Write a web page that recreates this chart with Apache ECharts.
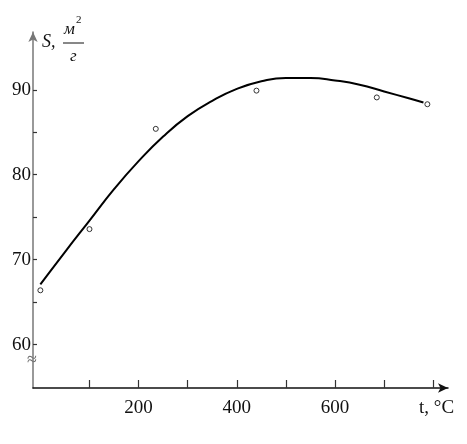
<!DOCTYPE html>
<html>
<head>
<meta charset="utf-8">
<script src="https://cdn.jsdelivr.net/npm/echarts@6/dist/echarts.min.js"></script>
<style>html,body{margin:0;padding:0;background:#fff;}#c{width:467px;height:444px;}</style>
</head>
<body>
<div id="c"></div>
<script>
// Measured points (t, °C ; S, m2/g)
const pointT = [0, 100, 235, 440, 685, 788];
const pointS = [66.4, 73.6, 85.4, 89.9, 89.1, 88.3];
// Fitted curve
const curveT = [0, 50, 100, 150, 200, 250, 300, 350, 400, 450, 500, 550, 600, 650, 700, 750, 780];
const curveS = [67.1, 70.9, 74.6, 78.3, 81.6, 84.5, 86.9, 88.7, 90.1, 91.0, 91.4, 91.4, 91.1, 90.6, 89.8, 89.0, 88.5];
// Ticks
const xTicks = [100, 200, 300, 400, 500, 600, 700, 800];
const xTickLabels = [200, 400, 600];
const yTicks = [60, 65, 70, 75, 80, 85, 90];
const yTickLabels = [60, 70, 80, 90];

const serif = '"Liberation Serif", "DejaVu Serif", serif';
const chart = echarts.init(document.getElementById('c'), null, {renderer: 'canvas'});
chart.setOption({
  animation: false,
  backgroundColor: '#fff',
  grid: {left: 33, right: 19, top: 32, bottom: 56, containLabel: false},
  xAxis: {
    type: 'value', min: -15, max: 830,
    axisLine: {show: true, onZero: false, symbol: ['none', 'arrow'], symbolSize: [7, 10],
      lineStyle: {color: '#111', width: 1.5}},
    axisTick: {show: true, inside: true, length: 8, customValues: xTicks, lineStyle: {color: '#333', width: 1.2}},
    axisLabel: {show: true, customValues: xTickLabels, margin: 11, color: '#111', fontFamily: serif, fontSize: 19},
    splitLine: {show: false}
  },
  yAxis: {
    type: 'value', min: 54.9, max: 96.8,
    axisLine: {show: true, onZero: false, symbol: ['none', 'arrow'], symbolSize: [7, 10],
      lineStyle: {color: '#777', width: 1.5}},
    axisTick: {show: true, inside: true, length: 4, customValues: yTicks, lineStyle: {color: '#333', width: 1.2}},
    axisLabel: {show: true, customValues: yTickLabels, margin: 2, color: '#111', fontFamily: serif, fontSize: 19},
    splitLine: {show: false}
  },
  series: [
    {
      type: 'line', smooth: true, symbol: 'none',
      data: curveT.map((t, i) => [t, curveS[i]]),
      lineStyle: {color: '#000', width: 2}
    },
    {
      type: 'scatter', symbol: 'circle', symbolSize: 5, z: 5,
      data: pointT.map((t, i) => [t, pointS[i]]),
      itemStyle: {color: '#fff', borderColor: '#333', borderWidth: 1, opacity: 1}
    }
  ],
  graphic: [
    {type: 'text', left: 42, top: 33, style: {text: 'S,', font: 'italic 18px ' + serif, fill: '#111'}},
    {type: 'text', left: 64, top: 21, style: {text: 'м', font: 'italic 17px ' + serif, fill: '#111'}},
    {type: 'text', left: 76, top: 15, style: {text: '2', font: '11px ' + serif, fill: '#111'}},
    {type: 'line', shape: {x1: 63, y1: 43, x2: 84, y2: 43}, style: {stroke: '#111', lineWidth: 1}},
    {type: 'text', left: 70, top: 48, style: {text: 'г', font: 'italic 17px ' + serif, fill: '#111'}},
    {type: 'text', left: 419, top: 399, style: {text: 't, °C', font: '19px ' + serif, fill: '#111'}},
    {type: 'text', x: 32, y: 360, style: {text: '≈', font: '18px ' + serif, fill: '#666', align: 'center', verticalAlign: 'middle'}}
  ]
});
</script>
</body>
</html>
